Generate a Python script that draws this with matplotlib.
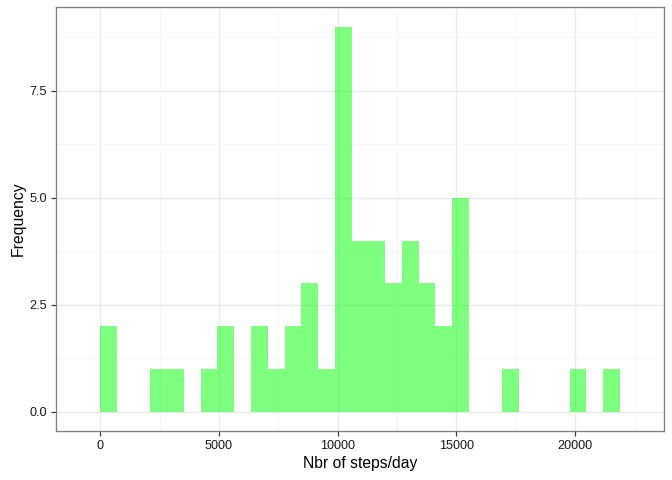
import matplotlib
matplotlib.use("Agg")
import matplotlib.pyplot as plt
import numpy as np

# Data: histogram of steps per day (bin width ~706, first bin starts at 0)
bin_start = 0.0
bin_width = 705.7
counts = [2, 0, 0, 1, 1, 0, 1, 2, 0, 2, 1, 2, 3, 1, 9, 4, 4, 3, 4, 3, 2, 5,
          0, 0, 1, 0, 0, 0, 1, 0, 1]
x_ticks = [0, 5000, 10000, 15000, 20000]
y_ticks = [0.0, 2.5, 5.0, 7.5]
y_tick_labels = ["0.0", "2.5", "5.0", "7.5"]
x_label = "Nbr of steps/day"
y_label = "Frequency"

plt.rcParams['font.family'] = ['Liberation Sans', 'DejaVu Sans']

fig = plt.figure(figsize=(7, 5), dpi=96)
ax = fig.add_axes([0.0829, 0.1021, 0.9885 - 0.0829, 0.9848 - 0.1021])

n = len(counts)
lefts = bin_start + bin_width * np.arange(n)
ax.bar(lefts, counts, width=bin_width, align='edge', color='#00FF00',
       alpha=0.5, linewidth=0, zorder=3)

# limits like ggplot (padding bins + 5% expansion)
lo = bin_start - bin_width
hi = bin_start + bin_width * (n + 1)
r = hi - lo
ax.set_xlim(lo - 0.05 * r, hi + 0.05 * r)
ymax = max(counts)
ax.set_ylim(-0.05 * ymax, ymax * 1.05)

ax.set_xticks(x_ticks)
ax.set_xticklabels([str(t) for t in x_ticks])
ax.set_yticks(y_ticks)
ax.set_yticklabels(y_tick_labels)
ax.set_xticks([2500, 7500, 12500, 17500, 22500], minor=True)
ax.set_yticks([1.25, 3.75, 6.25, 8.75], minor=True)

ax.grid(True, which='major', color='#EBEBEB', linewidth=1.1, zorder=0)
ax.grid(True, which='minor', color='#F5F5F5', linewidth=0.6, zorder=0)
ax.set_axisbelow(True)

for s in ax.spines.values():
    s.set_color('#808080')
    s.set_linewidth(1.0)
    s.set_zorder(5)

ax.tick_params(which='major', length=3.5, width=0.9, color='#333333',
               labelsize=9.5, labelcolor='#1a1a1a', pad=3)
ax.tick_params(which='minor', length=0)

ax.set_xlabel(x_label, fontsize=11.8, color='black', labelpad=3)
ax.set_ylabel(y_label, fontsize=11.8, color='black', labelpad=3)

fig.savefig("out.png", dpi=96)
